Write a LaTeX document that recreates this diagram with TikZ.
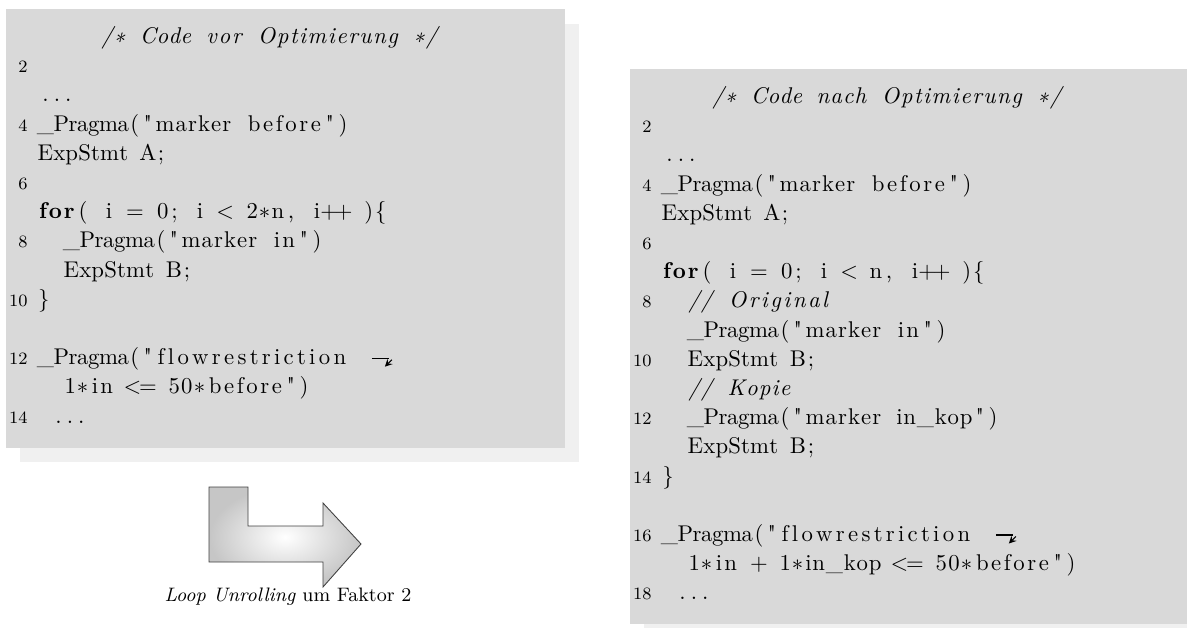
\documentclass[tikz,border=0pt]{standalone}
\usepackage{listings}
\font\quotefont="[lmroman10-regular]" at 10.5pt
\lstset{language=C,basicstyle=\fontsize{10.5}{12}\selectfont,keywordstyle=\bfseries,commentstyle=\itshape,showstringspaces=false,
  basewidth={6pt,6pt},literate={"}{{\quotefont\char"22}}1}
\newcommand\codeln{\lstinline[flexiblecolumns=false,columns=fixed]}
\newcommand\commentln{\lstinline[flexiblecolumns=false,columns=fixed,language={},basicstyle=\fontsize{10.5}{12}\selectfont\itshape]}

\begin{document}
\begin{tikzpicture}[x=0.4615pt,y=-0.4615pt,
    shadow/.style={fill=gray!12},
    codebox/.style={fill=gray!30},
    code/.style={anchor=base west,inner sep=0pt},
    lineno/.style={anchor=base east,inner sep=0pt,font=\footnotesize},
    unroll/.style={draw=black!75,shading=radial,inner color=white,outer color=gray!45},
    caption/.style={font=\small,inner sep=0pt},
    brk/.style={line width=0.5pt}]

  \useasboundingbox (0,0) rectangle (1187,628);

  \fill[shadow] (20,24) rectangle (579,462);
  \fill[codebox] (6,9) rectangle (565,448);
  \fill[shadow] (644,84) rectangle (1203,639);
  \fill[codebox] (630,69) rectangle (1189,624);

  \node[code] (vor1) at (100,43.5) {\commentln!/* Code vor Optimierung */!};
  \node[code] (vor3) at (37,101.9) {\codeln!...!};
  \node[code] (vor4) at (37,131.1) {\codeln!_Pragma("marker before")!};
  \node[code] (vor5) at (37,160.3) {\codeln!ExpStmt A;!};
  \node[code] (vor7) at (37,218.7) {\codeln!for( i = 0; i < 2*n, i++ ){!};
  \node[code] (vor8) at (63,247.9) {\codeln!_Pragma("marker in")!};
  \node[code] (vor9) at (63,277.1) {\codeln!ExpStmt B;!};
  \node[code] (vor10) at (37,306.3) {\codeln!}!};
  \node[code] (vor12) at (37,364.7) {\codeln!_Pragma("flowrestriction!};
  \node[code] (vor13) at (63,393.9) {\codeln!1*in <= 50*before")!};
  \node[code] (vor14) at (50,423.1) {\codeln!...!};
  \foreach \k in {2,4,...,14}
    \node[lineno] (vornr\k) at (28,{43.5+(\k-1)*29.2}) {\k};

  \node[code] (nach1) at (711,103.5) {\commentln!/* Code nach Optimierung */!};
  \node[code] (nach3) at (661,161.9) {\codeln!...!};
  \node[code] (nach4) at (661,191.1) {\codeln!_Pragma("marker before")!};
  \node[code] (nach5) at (661,220.3) {\codeln!ExpStmt A;!};
  \node[code] (nach7) at (661,278.7) {\codeln!for( i = 0; i < n, i++ ){!};
  \node[code] (nach8) at (687,307.9) {\commentln!// Original!};
  \node[code] (nach9) at (687,337.1) {\codeln!_Pragma("marker in")!};
  \node[code] (nach10) at (687,366.3) {\codeln!ExpStmt B;!};
  \node[code] (nach11) at (687,395.5) {\commentln!// Kopie!};
  \node[code] (nach12) at (687,424.7) {\codeln!_Pragma("marker in_kop")!};
  \node[code] (nach13) at (687,453.9) {\codeln!ExpStmt B;!};
  \node[code] (nach14) at (661,483.1) {\codeln!}!};
  \node[code] (nach16) at (661,541.5) {\codeln!_Pragma("flowrestriction!};
  \node[code] (nach17) at (687,570.7) {\codeln!1*in + 1*in_kop <= 50*before")!};
  \node[code] (nach18) at (674,599.9) {\codeln!...!};
  \foreach \k in {2,4,...,18}
    \node[lineno] (nachnr\k) at (652,{103.5+(\k-1)*29.2}) {\k};

  \draw[brk] (vor12.base east) ++(22,-6.5) -- ++(17,0);
  \draw[brk,->,>=stealth] (vor12.base east) ++(42,-5) -- ++(-7,7);
  \draw[brk] (nach16.base east) ++(22,-6.5) -- ++(17,0);
  \draw[brk,->,>=stealth] (nach16.base east) ++(42,-5) -- ++(-7,7);

  \draw[unroll] (209,487) -- (248,487) -- (248,526) -- (323,526) -- (323,503)
    -- (361,544) -- (323,587) -- (323,562) -- (209,562) -- cycle;
  \node[caption] (cap) at (288,597) {\textit{Loop Unrolling} um Faktor 2};
\end{tikzpicture}
\end{document}
